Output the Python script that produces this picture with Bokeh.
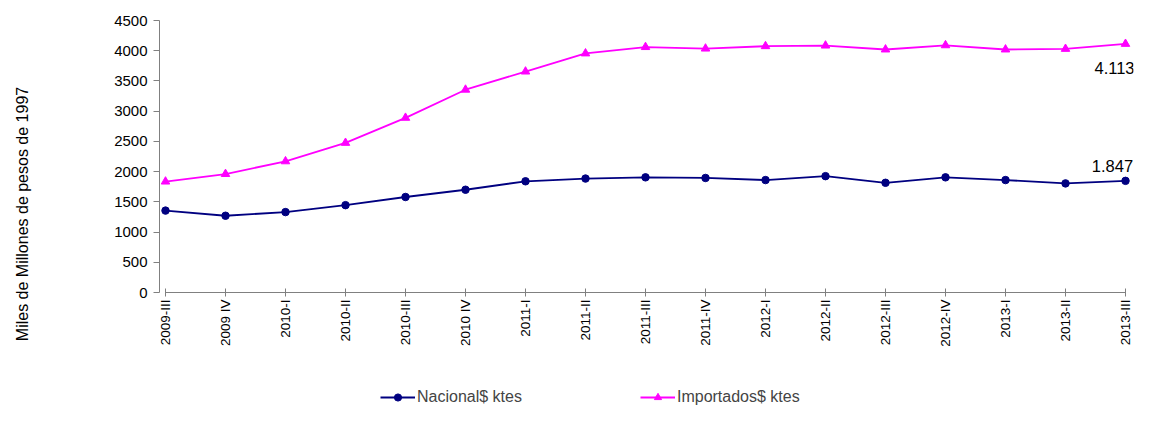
from bokeh.plotting import figure
from bokeh.models import Legend, LegendItem, FixedTicker, Range1d, ColumnDataSource, LabelSet
from bokeh.core.properties import value
from bokeh.embed import file_html
from bokeh.resources import INLINE

categories = ["2009-III", "2009 IV", "2010-I", "2010-II", "2010-III", "2010 IV",
              "2011-I", "2011-II", "2011-III", "2011-IV", "2012-I", "2012-II",
              "2012-III", "2012-IV", "2013-I", "2013-II", "2013-III"]
nacional = [1355, 1270, 1330, 1445, 1580, 1700, 1840, 1885, 1905, 1895, 1860, 1925,
            1815, 1905, 1860, 1805, 1847]
importados = [1835, 1960, 2170, 2475, 2890, 3355, 3655, 3955, 4060, 4035, 4075, 4085,
              4020, 4090, 4020, 4030, 4113]
y_ticks = [0, 500, 1000, 1500, 2000, 2500, 3000, 3500, 4000, 4500]
y_title = "Miles de Millones de pesos de 1997"

FONT = "Liberation Sans"
xs = list(range(len(categories)))
last = len(categories) - 1

W, H = 1134, 407
LEFT, TOP, RIGHT = 159, 20, 1
PX_PER_CAT = 60
ZERO_PX = 292          # pixel row of y = 0
YMAX = 4500
px_per_unit = (ZERO_PX - TOP) / YMAX
y_start = -(H - ZERO_PX) / px_per_unit      # frame reaches the bottom so the legend fits inside
frame_w = W - LEFT - RIGHT
x_start = -6 / PX_PER_CAT
x_end = x_start + frame_w / PX_PER_CAT

p = figure(width=W, height=H, output_backend="svg", toolbar_location=None,
           x_range=Range1d(x_start, x_end), y_range=Range1d(y_start, YMAX),
           min_border_left=LEFT, min_border_right=RIGHT, min_border_top=TOP,
           min_border_bottom=0)
p.outline_line_color = None
p.xgrid.visible = False
p.ygrid.visible = False
p.background_fill_color = "white"

# y axis
p.yaxis.ticker = FixedTicker(ticks=y_ticks)
p.yaxis.bounds = (0, YMAX)
p.yaxis.minor_tick_line_color = None
p.yaxis.major_tick_in = 0
p.yaxis.major_tick_out = 6
p.yaxis.axis_line_color = "#808080"
p.yaxis.major_tick_line_color = "#808080"
p.yaxis.major_label_text_font = FONT
p.yaxis.major_label_text_font_size = "15px"
p.yaxis.major_label_text_color = "black"
p.yaxis.major_label_standoff = 6
p.yaxis.axis_label = y_title
p.yaxis.axis_label_text_font = FONT
p.yaxis.axis_label_text_font_size = "16px"
p.yaxis.axis_label_text_font_style = "normal"
p.yaxis.axis_label_text_color = "black"
p.yaxis.axis_label_standoff = 80

# x axis drawn at y = 0
p.xaxis.fixed_location = 0
p.xaxis.ticker = FixedTicker(ticks=xs)
p.xaxis.bounds = (0, last)
p.xaxis.major_label_overrides = {i: c for i, c in enumerate(categories)}
p.xaxis.major_label_orientation = 1.5707963
p.xaxis.minor_tick_line_color = None
p.xaxis.major_tick_in = 4
p.xaxis.major_tick_out = 4
p.xaxis.axis_line_color = "#808080"
p.xaxis.major_tick_line_color = "#808080"
p.xaxis.major_label_text_font = FONT
p.xaxis.major_label_text_font_size = "13.5px"
p.xaxis.major_label_text_color = "black"
p.xaxis.major_label_standoff = 3

navy = "#000080"
mag = "#FF00FF"

l1 = p.line(xs, nacional, line_color=navy, line_width=1.8)
m1 = p.scatter(xs, nacional, marker="circle", size=7.5, fill_color=navy, line_color=navy)
l2 = p.line(xs, importados, line_color=mag, line_width=1.8)
m2 = p.scatter(xs, importados, marker="triangle", size=8.5, fill_color=mag, line_color=mag)

def fmt(v):
    return f"{v:,}".replace(",", ".")

src_nac = ColumnDataSource(dict(x=[last], y=[nacional[-1]], t=[fmt(nacional[-1])]))
p.add_layout(LabelSet(x="x", y="y", text="t", source=src_nac, text_font=value(FONT),
                      text_font_size="16.5px", text_align="center", text_baseline="middle",
                      x_offset=-13, y_offset=15, text_color="black"))
src_imp = ColumnDataSource(dict(x=[last], y=[importados[-1]], t=[fmt(importados[-1])]))
p.add_layout(LabelSet(x="x", y="y", text="t", source=src_imp, text_font=value(FONT),
                      text_font_size="16.5px", text_align="center", text_baseline="middle",
                      x_offset=-11, y_offset=-24, text_color="black"))

legend = Legend(items=[LegendItem(label="Nacional$ ktes", renderers=[l1, m1]),
                       LegendItem(label="Importados$ ktes", renderers=[l2, m2])],
                orientation="horizontal", location=(221, 1), margin=0,
                border_line_color=None, background_fill_alpha=0,
                label_text_font=FONT, label_text_font_size="16px",
                glyph_width=35, glyph_height=18, label_height=18,
                spacing=118, label_standoff=2, padding=3)
p.add_layout(legend, "center")

open("out.html", "w").write(file_html(p, INLINE))
